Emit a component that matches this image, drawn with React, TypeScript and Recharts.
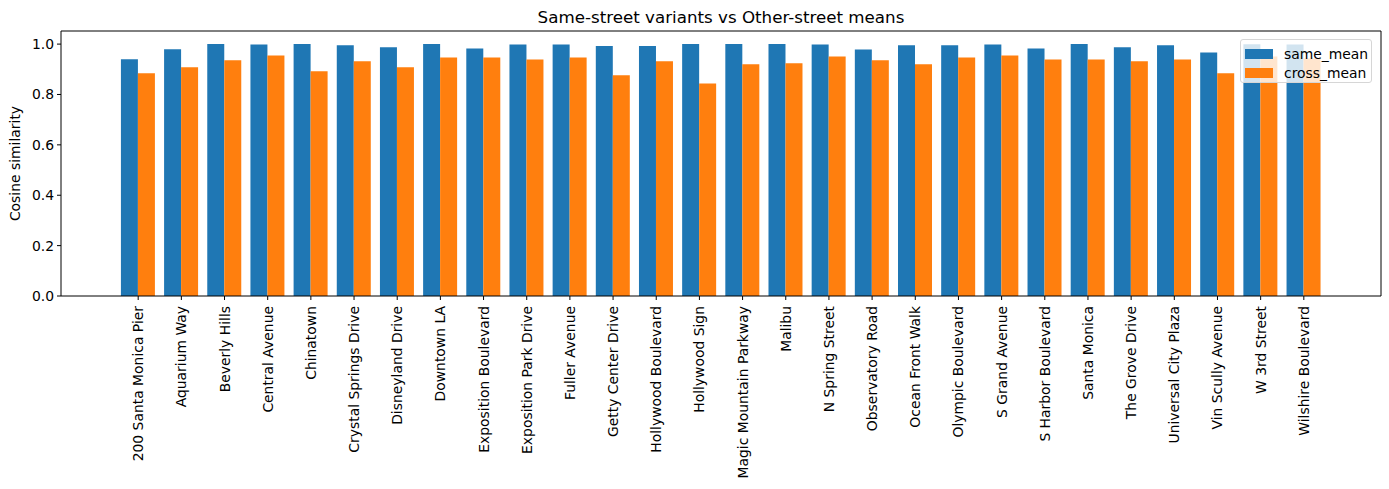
import { BarChart, Bar, XAxis, YAxis, Legend } from "recharts";

const STREETS = [
  "200 Santa Monica Pier",
  "Aquarium Way",
  "Beverly Hills",
  "Central Avenue",
  "Chinatown",
  "Crystal Springs Drive",
  "Disneyland Drive",
  "Downtown LA",
  "Exposition Boulevard",
  "Exposition Park Drive",
  "Fuller Avenue",
  "Getty Center Drive",
  "Hollywood Boulevard",
  "Hollywood Sign",
  "Magic Mountain Parkway",
  "Malibu",
  "N Spring Street",
  "Observatory Road",
  "Ocean Front Walk",
  "Olympic Boulevard",
  "S Grand Avenue",
  "S Harbor Boulevard",
  "Santa Monica",
  "The Grove Drive",
  "Universal City Plaza",
  "Vin Scully Avenue",
  "W 3rd Street",
  "Wilshire Boulevard",
];

const SAME_MEAN = [
  0.94, 0.98, 1.0, 0.998, 1.0, 0.995, 0.987, 1.0, 0.983, 0.998, 0.998, 0.992, 0.992, 1.0,
  1.0, 1.0, 0.998, 0.979, 0.995, 0.995, 0.998, 0.983, 1.0, 0.987, 0.995, 0.967, 0.999, 0.998,
];

const CROSS_MEAN = [
  0.884, 0.908, 0.936, 0.955, 0.892, 0.932, 0.908, 0.947, 0.947, 0.939, 0.947, 0.876, 0.932, 0.844,
  0.92, 0.924, 0.951, 0.936, 0.92, 0.947, 0.955, 0.939, 0.939, 0.932, 0.939, 0.884, 0.951, 0.943,
];

const Y_TICKS = [0, 0.2, 0.4, 0.6, 0.8, 1.0];

const data = STREETS.map((name, i) => ({ name, same_mean: SAME_MEAN[i], cross_mean: CROSS_MEAN[i] }));

const FONT = "'DejaVu Sans', sans-serif";
const BLUE = "#1f77b4";
const ORANGE = "#ff7f0e";

function RotatedTick({ x, y, payload }: any) {
  return (
    <text
      x={x}
      y={y + 3}
      transform={`rotate(-90, ${x}, ${y + 3})`}
      textAnchor="end"
      dy="0.36em"
      fontSize={13.9}
      fontFamily={FONT}
      fill="#000"
    >
      {payload.value}
    </text>
  );
}

function LegendBox() {
  const items = [
    { label: "same_mean", color: BLUE },
    { label: "cross_mean", color: ORANGE },
  ];
  return (
    <div
      style={{
        width: 132,
        height: 44,
        boxSizing: "border-box",
        background: "rgba(255,255,255,0.8)",
        border: "1px solid #d6d6d6",
        borderRadius: 3,
        padding: "4px 0 0 4px",
        fontFamily: FONT,
        fontSize: 13.9,
      }}
    >
      {items.map((it) => (
        <div key={it.label} style={{ display: "flex", alignItems: "center", height: 19 }}>
          <span style={{ display: "inline-block", width: 28, height: 10, background: it.color, marginRight: 11 }} />
          <span style={{ color: "#000" }}>{it.label}</span>
        </div>
      ))}
    </div>
  );
}

export default function App() {
  return (
    <div style={{ position: "absolute", left: 0, top: 0, width: 1389, height: 489, background: "#fff" }}>
      <div
        style={{
          position: "absolute",
          left: 61,
          width: 1320,
          top: 7,
          textAlign: "center",
          fontFamily: FONT,
          fontSize: 16.7,
          color: "#000",
        }}
      >
        Same-street variants vs Other-street means
      </div>
      <BarChart
        width={1389}
        height={489}
        data={data}
        margin={{ top: 30, right: 7, left: 0, bottom: 0 }}
        barCategoryGap="10%"
        barGap={0}
      >
        <XAxis
          dataKey="name"
          interval={0}
          height={193}
          padding={{ left: 55.6, right: 55.6 }}
          stroke="#000"
          tickSize={4}
          tickMargin={3}
          tick={<RotatedTick />}
        />
        <XAxis
          xAxisId="top"
          dataKey="name"
          orientation="top"
          height={1}
          padding={{ left: 55.6, right: 55.6 }}
          tick={false}
          tickLine={false}
          stroke="#000"
        />
        <YAxis
          domain={[0, 1.052]}
          ticks={Y_TICKS}
          allowDataOverflow
          width={61}
          stroke="#000"
          tickSize={4}
          tickMargin={3}
          tickFormatter={(v: number) => v.toFixed(1)}
          tick={{ fontSize: 13.9, fontFamily: FONT, fill: "#000" }}
          label={{
            value: "Cosine similarity",
            angle: -90,
            position: "insideLeft",
            dx: 10,
            style: { fontSize: 13.9, fontFamily: FONT, fill: "#000", textAnchor: "middle" },
          }}
        />
        <YAxis
          yAxisId="right"
          orientation="right"
          domain={[0, 1.052]}
          ticks={Y_TICKS}
          width={1}
          tick={false}
          tickLine={false}
          stroke="#000"
        />
        <Legend
          layout="horizontal"
          verticalAlign="middle"
          align="center"
          wrapperStyle={{ top: 39, left: 1240, width: 132 }}
          content={() => <LegendBox />}
        />
        <Bar dataKey="same_mean" fill={BLUE} isAnimationActive={false} />
        <Bar dataKey="cross_mean" fill={ORANGE} isAnimationActive={false} />
      </BarChart>
    </div>
  );
}
